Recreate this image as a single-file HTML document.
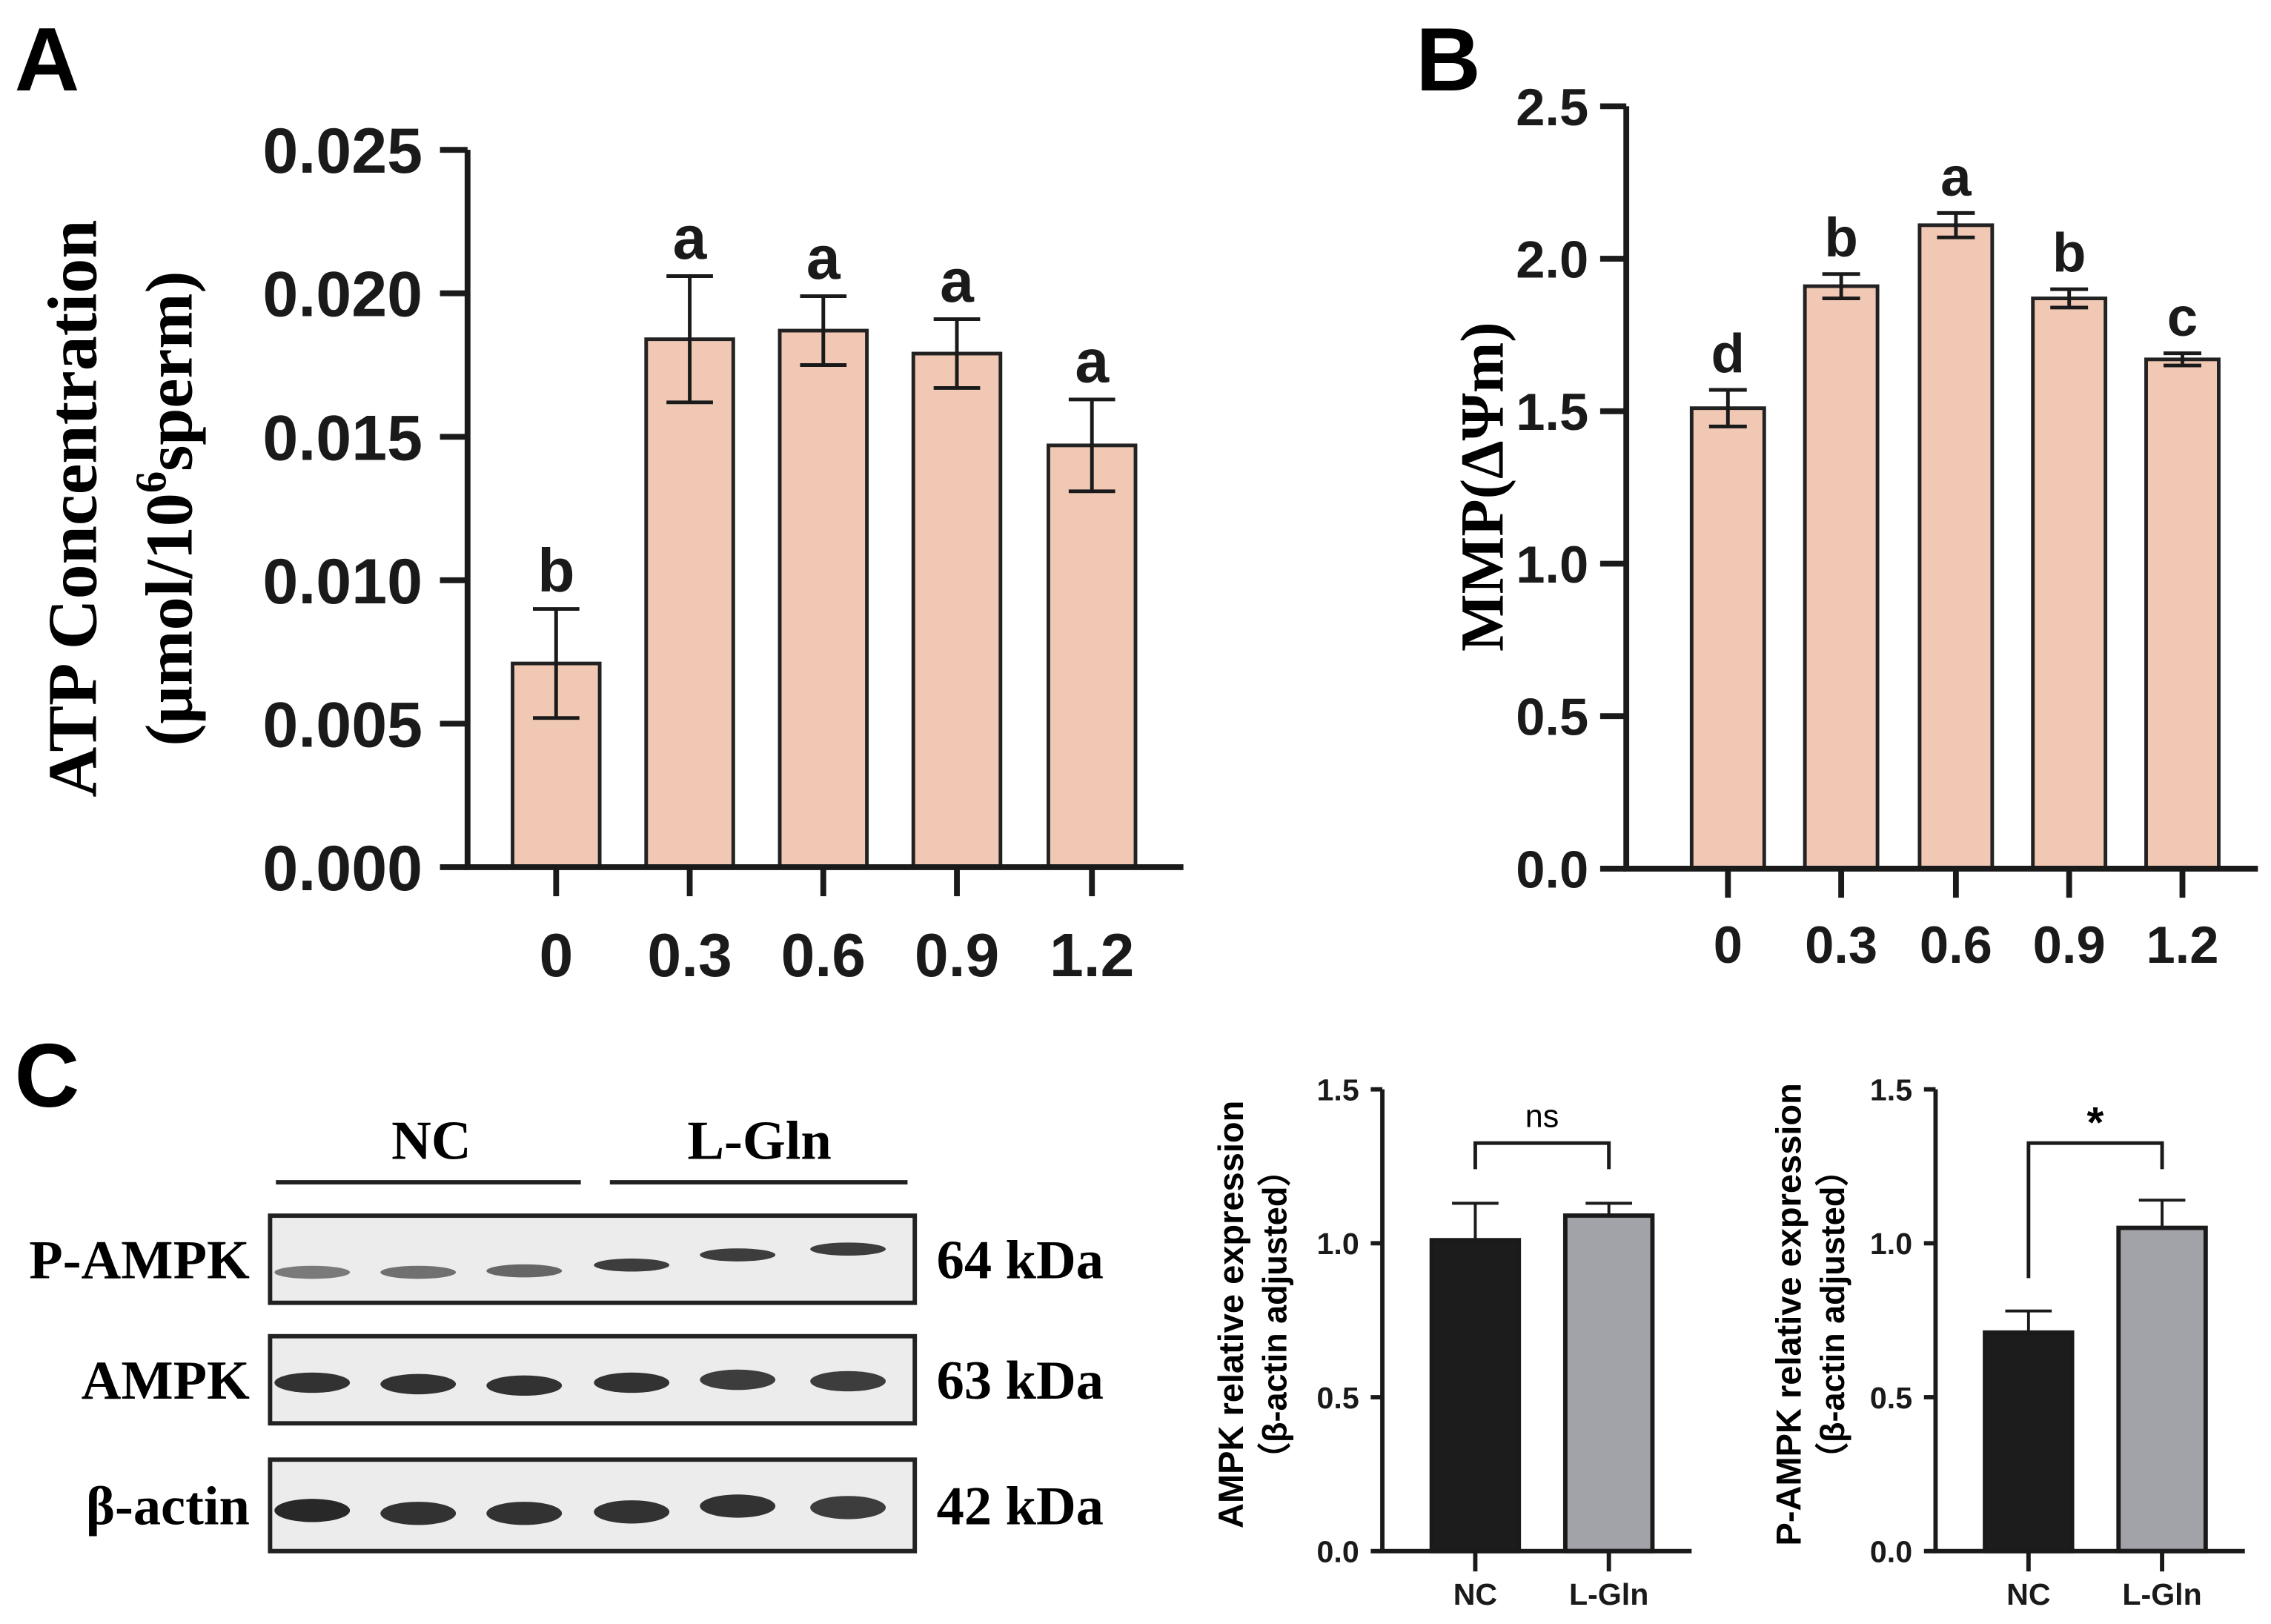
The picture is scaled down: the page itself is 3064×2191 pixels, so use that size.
<!DOCTYPE html>
<html><head><meta charset="utf-8"><style>
html,body{margin:0;padding:0;background:#fff}
svg{display:block}
.sans{font-family:"Liberation Sans",sans-serif;font-weight:bold}
.serif{font-family:"Liberation Serif",serif;font-weight:bold}
</style></head><body>
<svg id="fig" width="3064" height="2191" viewBox="0 0 1564 1118" xmlns="http://www.w3.org/2000/svg">
<g id="gA"></g>
<g id="gB"></g>
<g id="gC"></g>
<g id="gD"></g>
<g id="gE"></g>
</svg>
<script>
const doseCats = ["0","0.3","0.6","0.9","1.2"];
const atpValues = [0.0071,0.0184,0.0187,0.0179,0.0147];
const atpErrors = [0.0019,0.0022,0.0012,0.0012,0.0016];
const atpLetters = ["b","a","a","a","a"];
const atpTicks = ["0.000","0.005","0.010","0.015","0.020","0.025"];
const mmpValues = [1.51,1.91,2.11,1.87,1.67];
const mmpErrors = [0.06,0.04,0.04,0.03,0.02];
const mmpLetters = ["d","b","a","b","c"];
const mmpTicks = ["0.0","0.5","1.0","1.5","2.0","2.5"];
const grpCats = ["NC","L-Gln"];
const ampkValues = [1.01,1.09];
const ampkErrors = [0.12,0.04];
const pampkValues = [0.71,1.05];
const pampkErrors = [0.07,0.09];
const smallTicks = ["0.0","0.5","1.0","1.5"];

const NS="http://www.w3.org/2000/svg";
function mk(parent,tag,attrs,text){const e=document.createElementNS(NS,tag);for(const k in attrs)e.setAttribute(k,attrs[k]);if(text!==undefined)e.textContent=text;parent.appendChild(e);return e;}

function barChart(g,o){
  const {x0,y0,yTop,xEnd,max,ticks,cats,vals,errs,letters,centers,bw,fill,tickFont,catFont,catY,lw,errOnlyUp,barStroke}=o;
  const ys=v=>y0-(v/max)*(y0-yTop);
  const xs=i=>centers[i];
  ticks.forEach((t,i)=>{const v=max*i/(ticks.length-1);const y=ys(v);
    const tk=mk(g,'line',{x1:x0-o.tickLen,y1:y,x2:x0,y2:y,stroke:'#1a1a1a','stroke-width':lw});
    
    
    const tl=mk(g,'text',{x:x0-o.tickLen-(o.tickGap||8),y:y+tickFont*0.36,'text-anchor':'end','font-size':tickFont,class:o.tickClass||'sans',fill:'#1a1a1a'},t);
    
    
  });
  vals.forEach((v,i)=>{const x=xs(i);const y=ys(v);
    const r=mk(g,'rect',{x:x-bw/2,y:y,width:bw,height:y0-y,fill:fill[i],stroke:barStroke,'stroke-width':o.bsw});
    
    
    const yt=ys(v+errs[i]);const yb=errOnlyUp?y:ys(v-errs[i]);
    const cw=o.capW;
    const e=mk(g,'path',{d:`M${x},${yt}V${yb}M${x-cw},${yt}H${x+cw}`+(errOnlyUp?'':`M${x-cw},${yb}H${x+cw}`),stroke:'#1a1a1a','stroke-width':o.ew,fill:'none'});
    
    
    if(letters){const l=mk(g,'text',{x:x,y:yt-12,'text-anchor':'middle','font-size':o.letFont,class:'sans',fill:'#1a1a1a'},letters[i]);
      
      }
    const xt=mk(g,'line',{x1:x,y1:y0,x2:x,y2:y0+o.xTickLen,stroke:'#1a1a1a','stroke-width':lw});
    
    
    const xl=mk(g,'text',{x:x,y:catY,'text-anchor':'middle','font-size':catFont,class:o.catClass||'sans',fill:'#1a1a1a'},cats[i]);
    
    
  });
  const ax=mk(g,'path',{d:`M${x0},${yTop}V${y0}H${xEnd}`,stroke:'#1a1a1a','stroke-width':lw,fill:'none'});
  
  
  return ys;
}

// Panel A
const gA=document.getElementById('gA');
let t=mk(gA,'text',{x:10,y:62,'font-size':62,class:'sans'},'A');

barChart(gA,{x0:322,y0:597,yTop:103,xEnd:815,max:0.025,ticks:atpTicks,cats:doseCats,vals:atpValues,errs:atpErrors,letters:atpLetters,
  centers:[383,475,567,659,752],bw:60,fill:Array(5).fill('#f0c8b4'),barStroke:'#222',bsw:2.5,tickFont:44,catFont:42,catY:672,lw:4,tickLen:19,tickGap:12,xTickLen:20,capW:16,ew:2.5,letFont:42});
t=mk(gA,'text',{transform:'translate(66,350) rotate(-90)','text-anchor':'middle','font-size':48,class:'serif'},'ATP Concentration');

t=mk(gA,'text',{transform:'translate(132,350) rotate(-90)','text-anchor':'middle','font-size':46,class:'serif'});

t.innerHTML='(μmol/10<tspan dy="-18" font-size="30">6</tspan><tspan dy="18">sperm)</tspan>';

// Panel B
const gB=document.getElementById('gB');
t=mk(gB,'text',{x:975,y:62,'font-size':62,class:'sans'},'B');

barChart(gB,{x0:1120,y0:598,yTop:73,xEnd:1555,max:2.5,ticks:mmpTicks,cats:doseCats,vals:mmpValues,errs:mmpErrors,letters:mmpLetters,
  centers:[1190,1268,1347,1425,1503],bw:50,fill:Array(5).fill('#f0c8b4'),barStroke:'#222',bsw:2.5,tickFont:36,catFont:36,catY:663,lw:4,tickLen:18,xTickLen:20,capW:13,ew:2.5,letFont:38});
t=mk(gB,'text',{transform:'translate(1035,335) rotate(-90)','text-anchor':'middle','font-size':42,class:'serif'},'MMP(ΔΨm)');


// Panel C blot
const gC=document.getElementById('gC');
t=mk(gC,'text',{x:10,y:762,'font-size':62,class:'sans'},'C');

t=mk(gC,'text',{x:297,y:798,'text-anchor':'middle','font-size':38,class:'serif'},'NC');

t=mk(gC,'text',{x:523,y:798,'text-anchor':'middle','font-size':38,class:'serif'},'L-Gln');

t=mk(gC,'path',{d:'M190,814H400M420,814H625',stroke:'#222','stroke-width':3});

const lanes=[215,288,361,435,508,584];
const blots=[
 {name:'P-AMPK',kda:'64 kDa',y:837,h:60,bandY:[876,876,875,871,864,860],op:[0.55,0.6,0.65,0.85,0.85,0.85],bh:9},
 {name:'AMPK',kda:'63 kDa',y:920,h:60,bandY:[952,953,954,952,950,951],op:[0.9,0.9,0.9,0.9,0.85,0.85],bh:14},
 {name:'β-actin',kda:'42 kDa',y:1005,h:63,bandY:[1040,1042,1042,1041,1037,1038],op:[0.95,0.9,0.9,0.9,0.9,0.85],bh:16}];
blots.forEach(b=>{
  const r=mk(gC,'rect',{x:186,y:b.y,width:444,height:b.h,fill:'#ececec',stroke:'#222','stroke-width':3});
  
  lanes.forEach((lx,i)=>{const e=mk(gC,'ellipse',{cx:lx,cy:b.bandY[i],rx:26,ry:b.bh/2,fill:'#1e1e1e','fill-opacity':b.op[i]});
    });
  let l=mk(gC,'text',{x:172,y:b.y+b.h/2+13,'text-anchor':'end','font-size':38,class:'serif'},b.name);
  
  l=mk(gC,'text',{x:645,y:b.y+b.h/2+13,'font-size':38,class:'serif'},b.kda);
  
});

// Small charts
function small(g,x0,vals,errs,c,title,sig,leftLeg){
  barChart(g,{x0:x0,y0:1068,yTop:750,xEnd:x0+213,max:1.5,ticks:smallTicks,cats:grpCats,vals:vals,errs:errs,letters:null,
   centers:[x0+64,x0+156],bw:60,fill:['#1c1c1c','#a2a3a9'],barStroke:'#1a1a1a',bsw:3,tickFont:21,catFont:21,catY:1105,lw:3,tickLen:8,xTickLen:14,capW:16,ew:2,errOnlyUp:true});
  const xa=x0+64,xb=x0+156;
  let p=mk(g,'path',{d:`M${xa},${leftLeg}V787H${xb}V805`,stroke:'#1a1a1a','stroke-width':2.5,fill:'none'});
  
  p=mk(g,'text',{x:(xa+xb)/2,y:sig=='*'?783:776,'text-anchor':'middle','font-size':sig=='*'?30:22,class:sig=='*'?'sans':'',style:'font-family:"Liberation Sans",sans-serif'},sig);
  
  p=mk(g,'text',{transform:`translate(${c},905) rotate(-90)`,'text-anchor':'middle','font-size':24,class:'sans'},title);
  
  p=mk(g,'text',{transform:`translate(${c+30},905) rotate(-90)`,'text-anchor':'middle','font-size':23,class:'sans'},'（β-actin adjusted）');
  
}
small(document.getElementById('gD'),952,ampkValues,ampkErrors,856,'AMPK relative expression','ns',805);
small(document.getElementById('gE'),1333,pampkValues,pampkErrors,1240,'P-AMPK relative expression','*',880);
</script>
</body></html>
